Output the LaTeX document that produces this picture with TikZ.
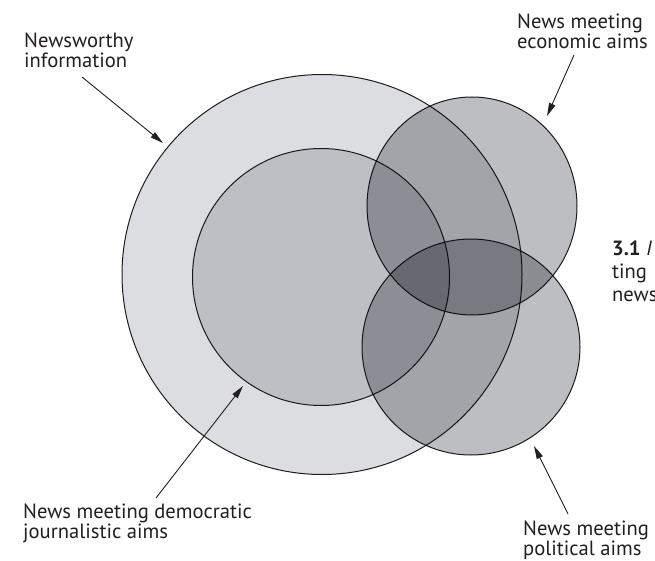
\documentclass[tikz,border=0pt]{standalone}
\usepackage{fontspec}
\setmainfont{PT Sans}
\usetikzlibrary{arrows.meta}
\definecolor{paleset}{RGB}{220,221,224}
\definecolor{midset}{RGB}{189,190,194}
\definecolor{ink}{RGB}{35,31,32}
\begin{document}
\begin{tikzpicture}[x=1pt,y=-1pt,
  region/.style={draw=ink, line width=1pt, blend mode=multiply},
  % anchored at the baseline of the last line of each label
  label/.style={anchor=base west, align=left, inner sep=0pt,
    font=\fontsize{20.6}{20}\selectfont, text=ink},
  pointer/.style={draw=ink, line width=0.9pt,
    -{Triangle[length=13pt,width=6.5pt]}}]
\useasboundingbox (0,0) rectangle (655,561);
\fill[white] (0,0) rectangle (655,561);

% overlapping sets, darkening where they intersect
\path[region, fill=paleset] (322,274.5) circle[radius=200pt];
\path[region, fill=paleset] (321,277) circle[radius=128.5pt];
\path[region, fill=midset] (472,206) ellipse[x radius=105pt, y radius=109pt];
\path[region, fill=midset] (471,347) ellipse[x radius=109pt, y radius=108pt];

% labels
\node[label] (newsworthy) at (24,68) {Newsworthy\\information};
\node[label] (economic) at (517,49) {News meeting\\economic aims};
\node[label] (democratic) at (23,538) {News meeting democratic\\journalistic aims};
\node[label] (political) at (523,555) {News meeting\\political aims};
\node[label, font=\fontsize{20.6}{23}\selectfont] (caption) at (612,301)
  {\textbf{3.1}\ \textit{I}\\ting\\news};

% pointers from labels to sets
\coordinate (nwTail) at (82,77);   \coordinate (nwTip) at (163,143);
\coordinate (ecTail) at (574,55);  \coordinate (ecTip) at (547,116);
\coordinate (deTail) at (156,498); \coordinate (deTip) at (243,386);
\coordinate (poTail) at (568,514); \coordinate (poTip) at (534,446);
\draw[pointer] (nwTail) -- (nwTip);
\draw[pointer] (ecTail) -- (ecTip);
\draw[pointer] (deTail) -- (deTip);
\draw[pointer] (poTail) -- (poTip);
\end{tikzpicture}
\end{document}
